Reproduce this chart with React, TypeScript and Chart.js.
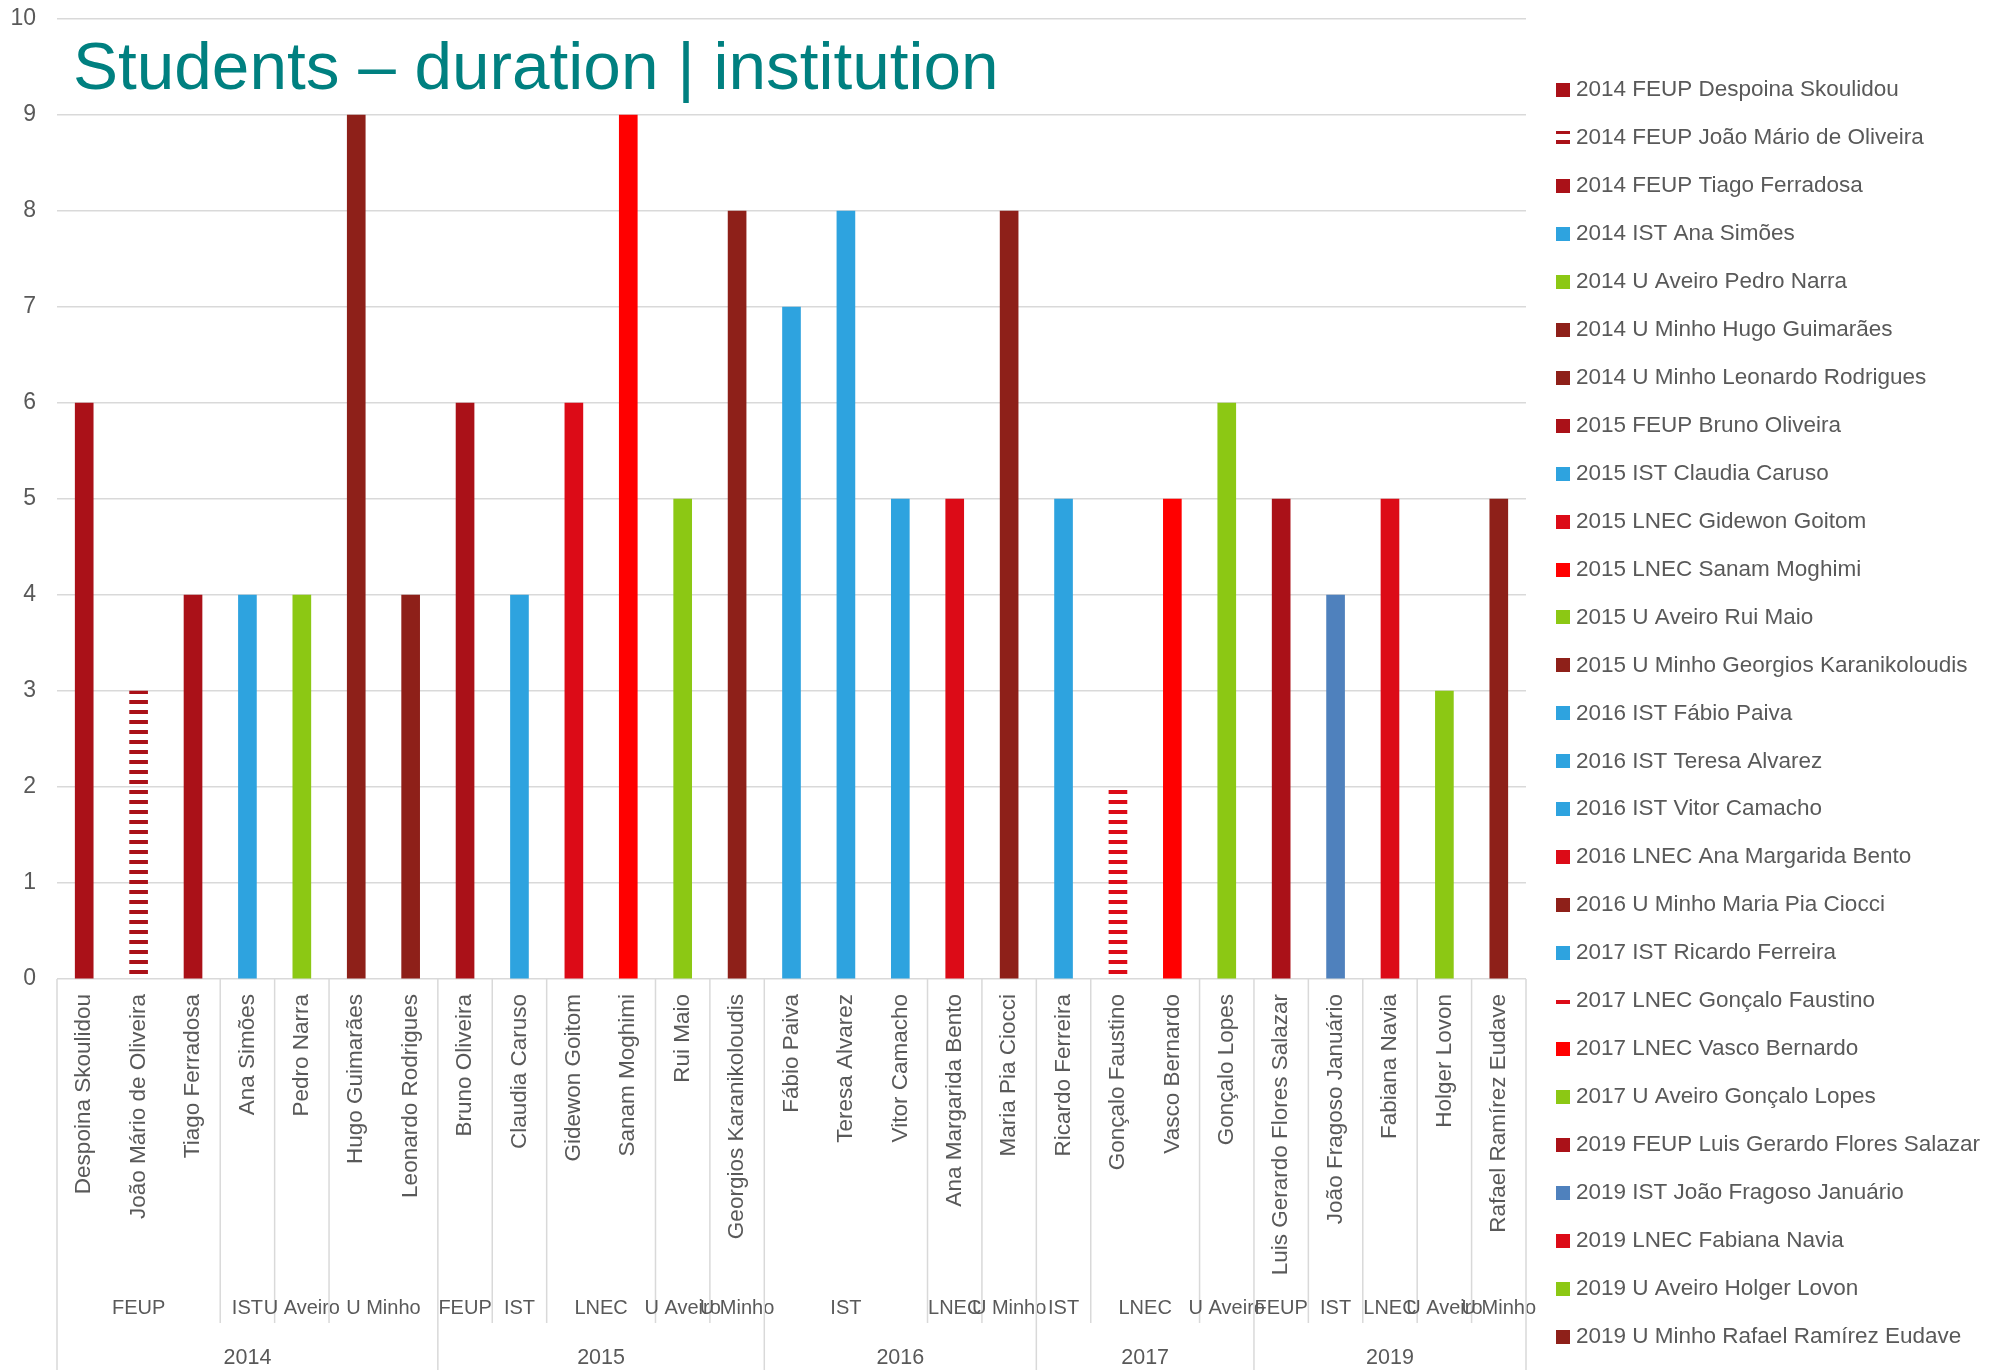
import React, { useEffect, useRef } from 'react';
import { Chart, registerables } from 'chart.js';

Chart.register(...registerables);

// ---------------- data ----------------
const names = [
  'Despoina Skoulidou', 'João Mário de Oliveira', 'Tiago Ferradosa', 'Ana Simões', 'Pedro Narra',
  'Hugo Guimarães', 'Leonardo Rodrigues', 'Bruno Oliveira', 'Claudia Caruso', 'Gidewon Goitom',
  'Sanam Moghimi', 'Rui Maio', 'Georgios Karanikoloudis', 'Fábio Paiva', 'Teresa Alvarez',
  'Vitor Camacho', 'Ana Margarida Bento', 'Maria Pia Ciocci', 'Ricardo Ferreira', 'Gonçalo Faustino',
  'Vasco Bernardo', 'Gonçalo Lopes', 'Luis Gerardo Flores Salazar', 'João Fragoso Januário',
  'Fabiana Navia', 'Holger Lovon', 'Rafael Ramírez Eudave',
];
const institutions = [
  'FEUP', 'FEUP', 'FEUP', 'IST', 'U Aveiro', 'U Minho', 'U Minho',
  'FEUP', 'IST', 'LNEC', 'LNEC', 'U Aveiro', 'U Minho',
  'IST', 'IST', 'IST', 'LNEC', 'U Minho',
  'IST', 'LNEC', 'LNEC', 'U Aveiro',
  'FEUP', 'IST', 'LNEC', 'U Aveiro', 'U Minho',
];
const years = [
  '2014', '2014', '2014', '2014', '2014', '2014', '2014',
  '2015', '2015', '2015', '2015', '2015', '2015',
  '2016', '2016', '2016', '2016', '2016',
  '2017', '2017', '2017', '2017',
  '2019', '2019', '2019', '2019', '2019',
];
const durations = [6, 3, 4, 4, 4, 9, 4, 6, 4, 6, 9, 5, 8, 7, 8, 5, 5, 8, 5, 2, 5, 6, 5, 4, 5, 3, 5];
const barColors = [
  '#AA1118', '#AA1118', '#AA1118', '#2EA3DF', '#8CC814', '#8E2019', '#8E2019',
  '#AA1118', '#2EA3DF', '#DC0B17', '#FF0000', '#8CC814', '#8E2019',
  '#2EA3DF', '#2EA3DF', '#2EA3DF', '#DC0B17', '#8E2019',
  '#2EA3DF', '#DC0B17', '#FF0000', '#8CC814',
  '#AA1118', '#4F81BD', '#DC0B17', '#8CC814', '#8E2019',
];
const hatched = [
  false, true, false, false, false, false, false,
  false, false, false, false, false, false,
  false, false, false, false, false,
  false, true, false, false,
  false, false, false, false, false,
];
const yTicks = [0, 1, 2, 3, 4, 5, 6, 7, 8, 9, 10];
const titleText = 'Students – duration | institution';

const FONT = '"Liberation Sans", Arial, sans-serif';
const GREY_TEXT = '#595959';
const LINE = '#D9D9D9';

function stripePattern(color: string): CanvasPattern | string {
  const c = document.createElement('canvas');
  c.width = 4;
  c.height = 10;
  const g = c.getContext('2d');
  if (!g) return color;
  g.fillStyle = color;
  g.fillRect(0, 0, 4, 4);
  const p = g.createPattern(c, 'repeat');
  return p || color;
}

const multiLevelAxis = {
  id: 'multiLevelAxis',
  afterDraw(chart: any) {
    const { ctx, chartArea } = chart;
    const xs = chart.scales.x;
    const n = chart.data.labels.length;
    const H = chart.height;
    const edge = (i: number) => {
      if (i <= 0) return chartArea.left;
      if (i >= n) return chartArea.right;
      return (xs.getPixelForValue(i - 1) + xs.getPixelForValue(i)) / 2;
    };
    ctx.save();
    ctx.strokeStyle = LINE;
    ctx.lineWidth = 1.5;
    const vline = (x: number, y1: number, y2: number) => {
      ctx.beginPath();
      ctx.moveTo(x, y1);
      ctx.lineTo(x, y2);
      ctx.stroke();
    };
    const instBottom = 1323;
    // institution groups
    ctx.fillStyle = GREY_TEXT;
    ctx.textAlign = 'center';
    ctx.textBaseline = 'middle';
    let s = 0;
    for (let i = 1; i <= n; i++) {
      if (i === n || institutions[i] !== institutions[s] || years[i] !== years[s]) {
        const x0 = edge(s);
        const x1 = edge(i);
        ctx.font = `20px ${FONT}`;
        ctx.fillText(institutions[s], (x0 + x1) / 2, 1308);
        if (i < n && years[i] === years[s]) vline(x1, chartArea.bottom, instBottom);
        s = i;
      }
    }
    // year groups
    s = 0;
    vline(chartArea.left, chartArea.bottom, H);
    for (let i = 1; i <= n; i++) {
      if (i === n || years[i] !== years[s]) {
        const x0 = edge(s);
        const x1 = edge(i);
        ctx.font = `21.5px ${FONT}`;
        ctx.fillText(years[s], (x0 + x1) / 2, 1358);
        vline(x1, chartArea.bottom, H);
        s = i;
      }
    }
    // title
    ctx.textAlign = 'left';
    ctx.textBaseline = 'alphabetic';
    ctx.fillStyle = '#008080';
    ctx.font = `67.5px ${FONT}`;
    ctx.fillText(titleText, 73, 89);
    // legend
    ctx.textBaseline = 'middle';
    ctx.font = `22.5px ${FONT}`;
    chart.data.datasets.forEach((ds: any, i: number) => {
      const cy = 90 + i * 47.95;
      ctx.fillStyle = ds.backgroundColor;
      ctx.fillRect(1556, Math.round(cy - 7), 14, 14);
      ctx.fillStyle = GREY_TEXT;
      ctx.fillText(ds.label, 1576, cy);
    });
    ctx.restore();
  },
};

export default function App() {
  const ref = useRef<HTMLCanvasElement | null>(null);
  useEffect(() => {
    const canvas = ref.current;
    if (!canvas) return;
    const datasets = names.map((name, i) => {
      const col = hatched[i] ? stripePattern(barColors[i]) : barColors[i];
      return {
        label: `${years[i]} ${institutions[i]} ${name}`,
        data: names.map((_, j) => (j === i ? durations[i] : null)),
        backgroundColor: col,
        borderWidth: 0,
        barThickness: 18,
      };
    });
    const chart = new Chart(canvas, {
      type: 'bar',
      data: { labels: names, datasets: datasets as any },
      options: {
        responsive: false,
        animation: false,
        layout: { padding: { top: 19, right: 470, left: 0, bottom: 0 } },
        plugins: {
          legend: { display: false },
          tooltip: { enabled: false },
          title: { display: false },
        },
        scales: {
          x: {
            stacked: true,
            grid: { display: false, drawTicks: false },
            border: { display: false },
            ticks: {
              autoSkip: false,
              minRotation: 90,
              maxRotation: 90,
              padding: 15,
              color: GREY_TEXT,
              font: { family: FONT, size: 22.5 },
            },
            afterFit: (sc: any) => { sc.height = 391; },
          },
          y: {
            stacked: true,
            min: yTicks[0],
            max: yTicks[yTicks.length - 1],
            grid: { color: LINE, lineWidth: 1.5, drawTicks: false },
            border: { display: false },
            ticks: {
              stepSize: 1,
              padding: 21,
              color: GREY_TEXT,
              font: { family: FONT, size: 23, lineHeight: 1 },
            },
            afterFit: (sc: any) => {
              sc.width = 57;
              sc.paddingTop = 0;
              sc.paddingBottom = 0;
            },
          },
        },
      } as any,
      plugins: [multiLevelAxis],
    });
    return () => chart.destroy();
  }, []);
  return (
    <div style={{ position: 'absolute', left: 0, top: 0, width: 1996, height: 1370, background: '#fff' }}>
      <canvas ref={ref} width={1996} height={1370} style={{ display: 'block' }} />
    </div>
  );
}
